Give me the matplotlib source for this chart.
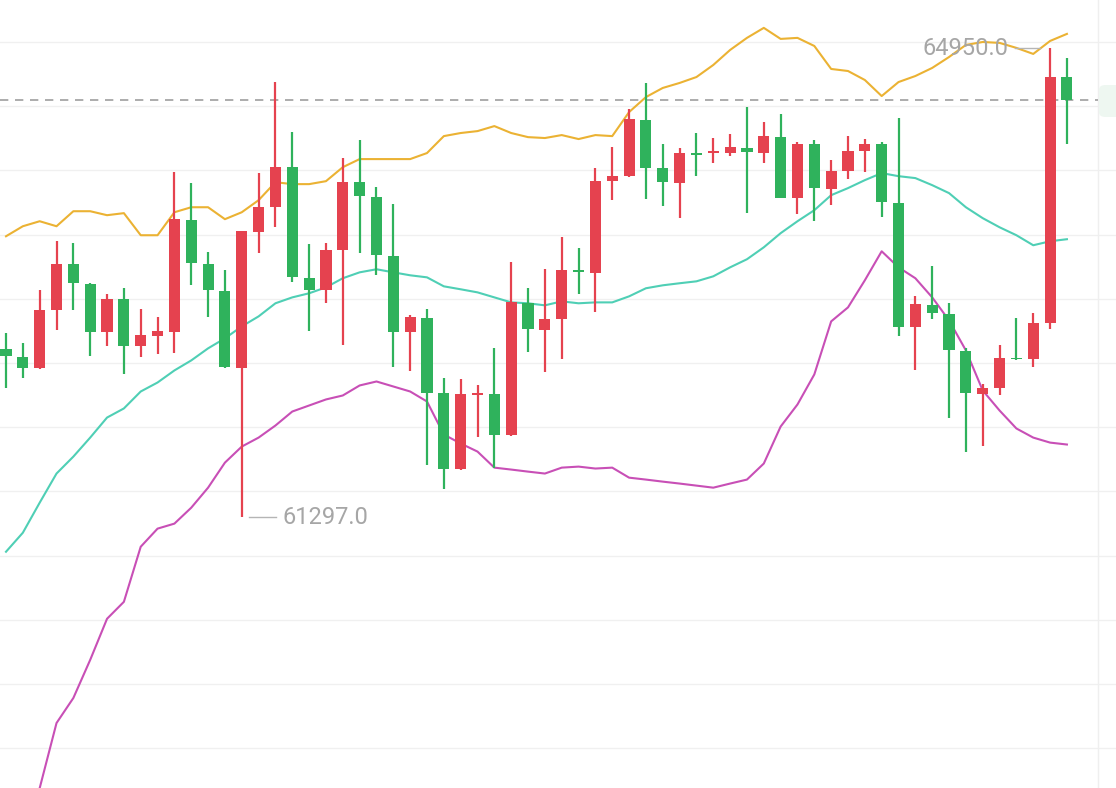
import matplotlib
matplotlib.use("Agg")
import matplotlib.pyplot as plt
from matplotlib.patches import FancyBboxPatch
import numpy as np

# ---- data ----
opens = [62606, 62543, 62458, 62910, 63269, 63113, 62738, 62996, 62629, 62707,
         62738, 63612, 63269, 63058, 62458, 63518, 63713, 64025, 63160, 63066,
         63378, 63908, 63791, 63331, 62738, 62848, 62263, 61678, 62247, 62255,
         61943, 62965, 62754, 62840, 63222, 63199, 63916, 63955, 64392, 64018,
         63901, 64127, 64135, 64135, 64174, 64135, 64259, 63784, 64205, 63854,
         63994, 64150, 64205, 63745, 62777, 62949, 62879, 62590, 62255, 62309,
         62536, 62528, 62809, 64727]
highs = [62731, 62653, 63066, 63448, 63433, 63120, 63035, 63082, 62918, 62855,
         63986, 63901, 63362, 63222, 63526, 63979, 64688, 64298, 63425, 63433,
         64096, 64236, 63869, 63737, 62871, 62918, 62387, 62372, 62325, 62614,
         63284, 63082, 63230, 63479, 63394, 64018, 64181, 64478, 64681, 64205,
         64174, 64291, 64252, 64283, 64493, 64376, 64439, 64220, 64236, 64080,
         64267, 64244, 64220, 64408, 63019, 63253, 62965, 62614, 62333, 62637,
         62848, 62887, 64950, 64876]
lows = [62302, 62387, 62450, 62754, 62910, 62551, 62629, 62411, 62543, 62567,
        62575, 63105, 62855, 62460, 61297, 63355, 63557, 63128, 62746, 62965,
        62637, 63355, 63183, 62465, 62434, 61709, 61522, 61670, 61927, 61685,
        61935, 62582, 62426, 62528, 63035, 62894, 63768, 63950, 63776, 63721,
        63628, 63955, 64057, 64111, 63667, 64057, 63784, 63659, 63604, 63729,
        63932, 63986, 63635, 62707, 62442, 62840, 62068, 61810, 61857, 62247,
        62520, 62465, 62762, 64205]
closes = [62551, 62458, 62910, 63269, 63121, 62738, 62996, 62629, 62715, 62746,
          63620, 63277, 63066, 62465, 63526, 63713, 64025, 63167, 63066, 63378,
          63908, 63799, 63339, 62738, 62855, 62270, 61678, 62255, 62263, 61943,
          62972, 62762, 62840, 63222, 63206, 63916, 63955, 64400, 64018, 63908,
          64135, 64119, 64142, 64181, 64142, 64267, 63784, 64205, 63862, 63994,
          64150, 64205, 63752, 62777, 62957, 62887, 62598, 62263, 62309, 62536,
          62528, 62809, 64727, 64548]

boll_upper = [63487, 63565, 63604, 63565, 63682, 63682, 63651, 63667, 63495, 63495,
              63674, 63713, 63713, 63620, 63674, 63768, 63908, 63893, 63893, 63916,
              64025, 64088, 64088, 64088, 64088, 64135, 64267, 64291, 64306, 64345,
              64291, 64259, 64252, 64275, 64244, 64275, 64267, 64454, 64571, 64642,
              64681, 64727, 64821, 64938, 65032, 65110, 65024, 65032, 64969, 64790,
              64774, 64704, 64579, 64688, 64735, 64798, 64883, 64977, 65000, 64993,
              64954, 64907, 65008, 65063]
boll_mid = [61030, 61178, 61412, 61639, 61771, 61919, 62075, 62146, 62278, 62348,
            62442, 62520, 62614, 62692, 62785, 62863, 62965, 63011, 63043, 63089,
            63160, 63206, 63230, 63206, 63183, 63167, 63097, 63074, 63050, 63011,
            62972, 62965, 62949, 62980, 62965, 62972, 62972, 63019, 63082, 63105,
            63121, 63136, 63175, 63245, 63308, 63401, 63511, 63604, 63690, 63807,
            63862, 63924, 63979, 63955, 63940, 63885, 63823, 63713, 63628, 63557,
            63495, 63417, 63448, 63464]
boll_lower = [58230, 58698, 59189, 59696, 59891, 60188, 60508, 60640, 61069, 61210,
              61249, 61373, 61529, 61724, 61849, 61919, 62013, 62122, 62169, 62216,
              62247, 62325, 62356, 62317, 62278, 62200, 61943, 61873, 61810, 61685,
              61670, 61654, 61639, 61685, 61693, 61678, 61685, 61607, 61592, 61576,
              61561, 61545, 61529, 61561, 61592, 61717, 62005, 62177, 62411, 62824,
              62933, 63144, 63370, 63245, 63160, 63011, 62832, 62598, 62286, 62130,
              61990, 61919, 61880, 61865]

grid_levels = [59500, 60000, 60500, 61000, 61500, 62000, 62500,
               63000, 63500, 64000, 64500, 65000]
high_label = "64950.0"
low_label = "61297.0"

RED = "#E5424F"
GREEN = "#2FB25C"
UPPER_C = "#EBB233"
MID_C = "#4FCFB5"
LOWER_C = "#C84FB6"
LABEL_C = "#A6A6A6"

W, H = 1116, 788
fig = plt.figure(figsize=(W / 100, H / 100), dpi=100)
ax = fig.add_axes([0, 0, 1, 1])

n = len(opens)
x = np.arange(n)
step = 16.84
x0_px = 6.0
ax.set_xlim(-x0_px / step, (W - x0_px) / step)
ax.set_ylim(59190, 65327)

for s in ax.spines.values():
    s.set_visible(False)
ax.set_yticks(grid_levels)
ax.set_xticks([])
ax.tick_params(left=False, labelleft=False, bottom=False, labelbottom=False)
ax.grid(axis="y", color="#F0F0F0", linewidth=1.0, zorder=0)
ax.set_axisbelow(True)

# right border of the price area
ax.axvline((1098 - x0_px) / step, color="#EFEFEF", linewidth=1.0, zorder=1)

# current price dashed line
ax.axhline(closes[-1], xmax=1098 / W, color="#9E9E9E", linewidth=1.2,
           linestyle=(0, (5, 4)), zorder=2)

# Bollinger lines
ax.plot(x, boll_upper, color=UPPER_C, linewidth=1.5, zorder=3)
ax.plot(x, boll_mid, color=MID_C, linewidth=1.5, zorder=3)
ax.plot(x, boll_lower, color=LOWER_C, linewidth=1.5, zorder=3)

# candles
colors = [RED if c >= o else GREEN for o, c in zip(opens, closes)]
ax.vlines(x, lows, highs, colors=colors, linewidth=1.6, zorder=4)
bottoms = [min(o, c) for o, c in zip(opens, closes)]
heights = [max(abs(c - o), 14) for o, c in zip(opens, closes)]
ax.bar(x, heights, bottom=bottoms, width=0.66, color=colors, linewidth=0, zorder=5)

# extreme labels
i_lo = int(np.argmin(lows))
i_hi = int(np.argmax(highs))
px = 1.0 / step
ax.plot([i_lo + 7 * px, i_lo + 34 * px], [lows[i_lo]] * 2, color="#B5B5B5", linewidth=1.0, zorder=6)
ax.text(i_lo + 41 * px, lows[i_lo], low_label, color=LABEL_C, fontsize=17,
        family="Roboto", va="center", ha="left", zorder=6)
ax.plot([i_hi - 35 * px, i_hi - 10 * px], [highs[i_hi]] * 2, color="#B5B5B5", linewidth=1.0, zorder=6)
ax.text(i_hi - 42 * px, highs[i_hi], high_label, color=LABEL_C, fontsize=17,
        family="Roboto", va="center", ha="right", zorder=6)

# faint price tag at the right edge
fig.patches.append(FancyBboxPatch((1099 / W, (H - 117) / H), 30 / W, 32 / H,
                                  boxstyle="round,pad=0,rounding_size=0.006",
                                  transform=fig.transFigure, facecolor="#EEF7F1",
                                  edgecolor="none", zorder=0))

fig.savefig("out.png", dpi=100, facecolor="white")
